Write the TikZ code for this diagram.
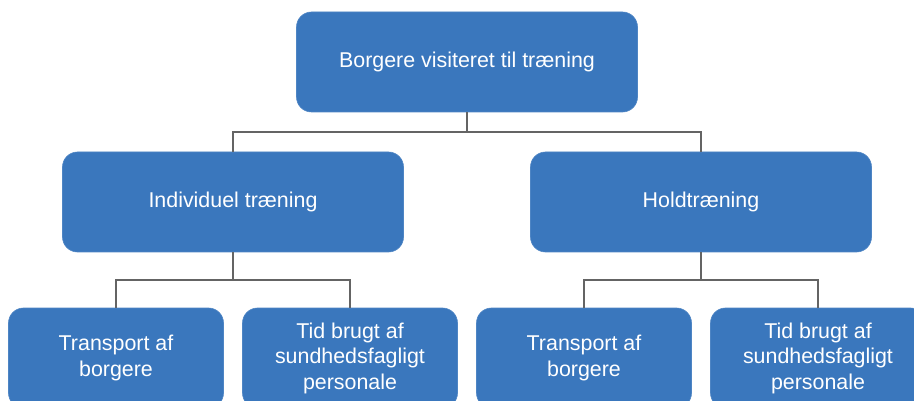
\documentclass[tikz,border=0pt]{standalone}
\usepackage{fontspec}
\setmainfont{Liberation Sans}
\definecolor{boxblue}{HTML}{3A77BD}
\definecolor{linegray}{HTML}{646464}
\begin{document}
\begin{tikzpicture}[x=1pt,y=-1pt,
  orgbox/.style={fill=boxblue, draw=boxblue!90!white, line width=0.6pt, rounded corners=15pt,
    text=white, font=\fontsize{21.4}{25.5}\selectfont, align=center, inner sep=0pt,
    minimum width=#1, minimum height=100pt},
  conn/.style={draw=linegray, line width=2pt}]
\useasboundingbox (0,0) rectangle (914,401);
\clip (0,0) rectangle (914,401);
\node[orgbox=341pt] (top) at (467,62) {Borgere visiteret til træning};
\node[orgbox=341pt] (ind) at (233,202) {Individuel træning};
\node[orgbox=341pt] (hold) at (701,202) {Holdtræning};
\node[orgbox=215pt] (t1) at (116,358) {Transport af\\borgere};
\node[orgbox=215pt] (p1) at (350,358) {Tid brugt af\\sundhedsfagligt\\personale};
\node[orgbox=215pt] (t2) at (584,358) {Transport af\\borgere};
\node[orgbox=215pt] (p2) at (818,358) {Tid brugt af\\sundhedsfagligt\\personale};
\coordinate (j1) at (467,132);
\coordinate (j2) at (233,280);
\coordinate (j3) at (701,280);
\draw[conn] (top.south) -- (j1) -| (ind.north);
\draw[conn] (j1) -| (hold.north);
\draw[conn] (ind.south) -- (j2) -| (t1.north);
\draw[conn] (j2) -| (p1.north);
\draw[conn] (hold.south) -- (j3) -| (t2.north);
\draw[conn] (j3) -| (p2.north);
\end{tikzpicture}
\end{document}
